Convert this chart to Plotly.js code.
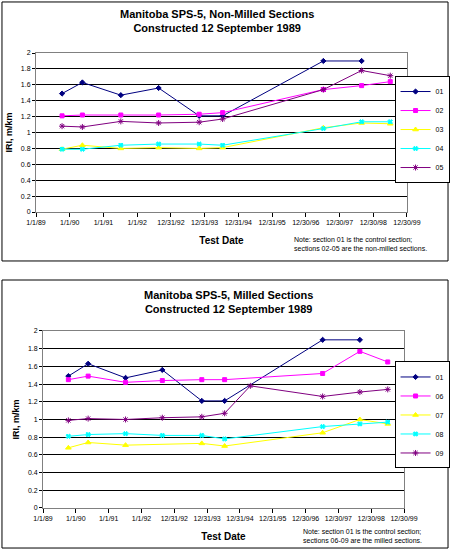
<!DOCTYPE html>
<html>
<head>
<meta charset="utf-8">
<script src="https://cdn.plot.ly/plotly-3.0.1.min.js"></script>
<style>
    body { margin: 0; background: #fff; }
    #chart { width: 450px; height: 550px; }
</style>
</head>
<body>
<div id="chart"></div>
<script>
// survey dates (shared by both charts)
const testDates = ['1989-10-10', '1990-05-18', '1991-07-08', '1992-08-20', '1993-11-02',
    '1994-07-14', '1995-04-26', '1997-07-08', '1998-08-26', '1999-07-02'];

// x axis ticks (Excel date axis, 365 day steps)
const tickDates = ['1989-01-01', '1990-01-01', '1991-01-01', '1992-01-01', '1992-12-31', '1993-12-31',
    '1994-12-31', '1995-12-31', '1996-12-30', '1997-12-30', '1998-12-30', '1999-12-30'];
const tickLabels = ['1/1/89', '1/1/90', '1/1/91', '1/1/92', '12/31/92', '12/31/93',
    '12/31/94', '12/31/95', '12/30/96', '12/30/97', '12/30/98', '12/30/99'];

// IRI, m/km -- control section
const iri01 = [1.49, 1.63, 1.47, 1.56, 1.21, 1.21, null, 1.90, 1.90, null];

// non-milled sections
const iri02 = [1.21, 1.22, 1.22, 1.22, 1.23, 1.25, null, 1.54, 1.59, 1.64];
const iri03 = [0.79, 0.84, 0.80, 0.81, 0.80, 0.81, null, 1.06, 1.12, 1.11];
const iri04 = [0.79, 0.79, 0.84, 0.855, 0.855, 0.84, null, 1.05, 1.135, 1.135];
const iri05 = [1.08, 1.07, 1.14, 1.12, 1.13, 1.17, null, 1.54, 1.78, 1.715];

// milled sections
const iri06 = [1.45, 1.49, 1.42, 1.44, 1.45, 1.45, null, 1.52, 1.77, 1.65];
const iri07 = [0.68, 0.74, 0.71, null, 0.73, 0.70, null, 0.85, 1.00, 0.95];
const iri08 = [0.81, 0.83, 0.84, 0.82, 0.82, 0.78, null, 0.92, 0.95, 0.97];
const iri09 = [0.99, 1.01, 1.00, 1.02, 1.03, 1.07, 1.38, 1.26, 1.31, 1.34];

const FONT = 'Liberation Sans, Arial, sans-serif';

const styles = [
    { color: '#000080', symbol: 'diamond', size: 4 },
    { color: '#FF00FF', symbol: 'square', size: 4 },
    { color: '#FFFF00', symbol: 'triangle-up', size: 5 },
    { color: '#00FFFF', symbol: 'x', size: 4 },
    { color: '#800080', symbol: 'asterisk-open', size: 5 }
];

function makeTrace(name, values, style, axisNum) {
    return {
        x: testDates,
        y: values,
        name: name,
        type: 'scatter',
        mode: 'lines+markers',
        connectgaps: true,
        xaxis: axisNum === 1 ? 'x' : 'x2',
        yaxis: axisNum === 1 ? 'y' : 'y2',
        legend: axisNum === 1 ? 'legend' : 'legend2',
        line: { color: style.color, width: 1 },
        marker: { color: style.color, symbol: style.symbol, size: style.size,
            line: { color: style.color, width: 1 } }
    };
}

const data = [
    makeTrace('01', iri01, styles[0], 1),
    makeTrace('02', iri02, styles[1], 1),
    makeTrace('03', iri03, styles[2], 1),
    makeTrace('04', iri04, styles[3], 1),
    makeTrace('05', iri05, styles[4], 1),
    makeTrace('01', iri01, styles[0], 2),
    makeTrace('06', iri06, styles[1], 2),
    makeTrace('07', iri07, styles[2], 2),
    makeTrace('08', iri08, styles[3], 2),
    makeTrace('09', iri09, styles[4], 2)
];

function xAxis(domain, anchor) {
    return {
        type: 'date',
        domain: domain,
        anchor: anchor,
        range: [tickDates[0], tickDates[tickDates.length - 1]],
        tickmode: 'array',
        tickvals: tickDates,
        ticktext: tickLabels,
        ticks: 'outside',
        ticklen: 4,
        tickcolor: '#000',
        tickfont: { family: FONT, size: 7, color: '#000' },
        showgrid: false,
        zeroline: false,
        showline: true,
        mirror: true,
        linecolor: '#808080',
        linewidth: 1,
        title: { text: '<b>Test Date</b>', font: { family: FONT, size: 10, color: '#000' }, standoff: 11 }
    };
}

function yAxis(domain, anchor) {
    return {
        domain: domain,
        anchor: anchor,
        range: [0, 2],
        dtick: 0.2,
        ticks: 'outside',
        ticklen: 3,
        tickcolor: '#000',
        tickfont: { family: FONT, size: 7, color: '#000' },
        showgrid: true,
        gridcolor: '#000',
        gridwidth: 1,
        zeroline: false,
        showline: true,
        mirror: true,
        linecolor: '#808080',
        linewidth: 1,
        title: { text: '<b>IRI, m/km</b>', font: { family: FONT, size: 9, color: '#000' }, standoff: 6 }
    };
}

function legendBox(yCenter) {
    return {
        x: 0.999,
        xanchor: 'right',
        y: yCenter,
        yanchor: 'middle',
        bgcolor: '#fff',
        bordercolor: '#000',
        borderwidth: 1,
        tracegroupgap: 0,
        font: { family: FONT, size: 7, color: '#000' }
    };
}

const layout = {
    width: 450,
    height: 550,
    margin: { l: 0, r: 0, t: 0, b: 0 },
    paper_bgcolor: '#fff',
    plot_bgcolor: '#fff',
    showlegend: true,
    font: { family: FONT, color: '#000' },
    xaxis: xAxis([0.08, 0.9044], 'y'),
    yaxis: yAxis([0.6145, 0.9036], 'x'),
    xaxis2: xAxis([0.0956, 0.8978], 'y2'),
    yaxis2: yAxis([0.0764, 0.3982], 'x2'),
    legend: legendBox(0.7645),
    legend2: legendBox(0.2455),
    shapes: [
        { type: 'rect', xref: 'paper', yref: 'paper', x0: 0.0044, x1: 0.9956, y0: 0.5255, y1: 0.9964,
            line: { color: '#000', width: 1 } },
        { type: 'rect', xref: 'paper', yref: 'paper', x0: 0.0044, x1: 0.9956, y0: 0.0036, y1: 0.4909,
            line: { color: '#000', width: 1 } }
    ],
    annotations: [
        { text: '<b>Manitoba SPS-5, Non-Milled Sections<br>Constructed 12 September 1989</b>',
            xref: 'paper', yref: 'paper', x: 217 / 450, y: 1 - 21.5 / 550, xanchor: 'center', yanchor: 'middle',
            showarrow: false, font: { family: FONT, size: 11 } },
        { text: 'Note: section 01 is the control section;<br>sections 02-05 are the non-milled sections.',
            xref: 'paper', yref: 'paper', x: 292 / 450, y: 1 - 243.5 / 550, xanchor: 'left', yanchor: 'middle',
            align: 'left', showarrow: false, font: { family: FONT, size: 7 } },
        { text: '<b>Manitoba SPS-5, Milled Sections<br>Constructed 12 September 1989</b>',
            xref: 'paper', yref: 'paper', x: 228 / 450, y: 1 - 301.5 / 550, xanchor: 'center', yanchor: 'middle',
            showarrow: false, font: { family: FONT, size: 11 } },
        { text: 'Note: section 01 is the control section;<br>sections 06-09 are the milled sections.',
            xref: 'paper', yref: 'paper', x: 301 / 450, y: 1 - 536 / 550, xanchor: 'left', yanchor: 'middle',
            align: 'left', showarrow: false, font: { family: FONT, size: 7 } }
    ]
};

Plotly.newPlot('chart', data, layout, { displayModeBar: false, staticPlot: true });
</script>
</body>
</html>
